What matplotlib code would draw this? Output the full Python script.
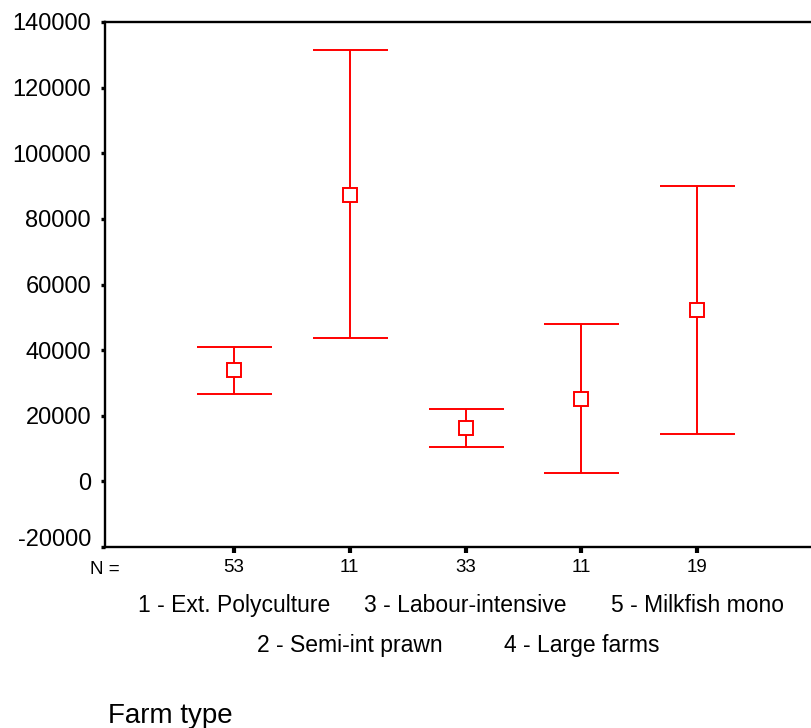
import matplotlib
matplotlib.use('Agg')
import matplotlib.pyplot as plt
import matplotlib.transforms as mtransforms

plt.rcParams['font.family'] = ['Liberation Sans', 'DejaVu Sans']

# mean and 95% CI per farm type
farm_pos = [1, 2, 3, 4, 5]
farm_names = ['1 - Ext. Polyculture', '2 - Semi-int prawn', '3 - Labour-intensive',
              '4 - Large farms', '5 - Milkfish mono']
n_counts = ['53', '11', '33', '11', '19']
means = [33800, 87200, 16200, 25000, 52100]
lowers = [26500, 43600, 10400, 2700, 14300]
uppers = [40850, 131400, 21950, 47900, 89900]
y_ticks = [-20000, 0, 20000, 40000, 60000, 80000, 100000, 120000, 140000]

W, H = 811, 728
fig = plt.figure(figsize=(W / 100, H / 100), dpi=100)
ax = fig.add_axes([105 / W, 1 - 547 / H, 1 - 105 / W, (547 - 22) / H])

err_lo = [m - lo for m, lo in zip(means, lowers)]
err_hi = [hi - m for m, hi in zip(means, uppers)]
ax.errorbar(farm_pos, means, yerr=[err_lo, err_hi], fmt='s', color='red',
            mfc='white', mec='red', mew=1.4, ms=9.5, elinewidth=1.4,
            capsize=27, capthick=1.4, zorder=3)

ax.set_xlim(1 - 129 / 115.75, 5 + 114 / 115.75)
ax.set_ylim(-20000, 140000)

ax.set_yticks(y_ticks)
ax.set_yticklabels([str(v) for v in y_ticks], fontsize=17)
ax.set_xticks(farm_pos)
ax.set_xticklabels(n_counts, fontsize=13.5)
ax.tick_params(axis='y', direction='out', length=3, width=2.4, pad=7)
ax.tick_params(axis='x', direction='out', length=4, width=3, pad=5)

# bottom y label sits a little above its tick
lbl = ax.get_yticklabels()[0]
lbl.set_transform(lbl.get_transform() + mtransforms.ScaledTranslation(0, 9 / 100, fig.dpi_scale_trans))

for side in ['left', 'bottom', 'top']:
    ax.spines[side].set_linewidth(1.7)
ax.spines['right'].set_visible(False)

fig.text(90 / W, 1 - 569 / H, 'N =', fontsize=13.5, ha='left', va='center')

# category legend under the axis, each name centred on its column
blend = mtransforms.blended_transform_factory(ax.transData, fig.transFigure)
for i, name in enumerate(farm_names):
    y = 1 - 612 / H if i % 2 == 0 else 1 - 652 / H
    ax.text(farm_pos[i], y, name, transform=blend, ha='center', va='baseline',
            fontsize=16.5, clip_on=False)

fig.text(108 / W, 1 - 723 / H, 'Farm type', fontsize=20, ha='left', va='baseline')

fig.savefig('out.png', dpi=100)
